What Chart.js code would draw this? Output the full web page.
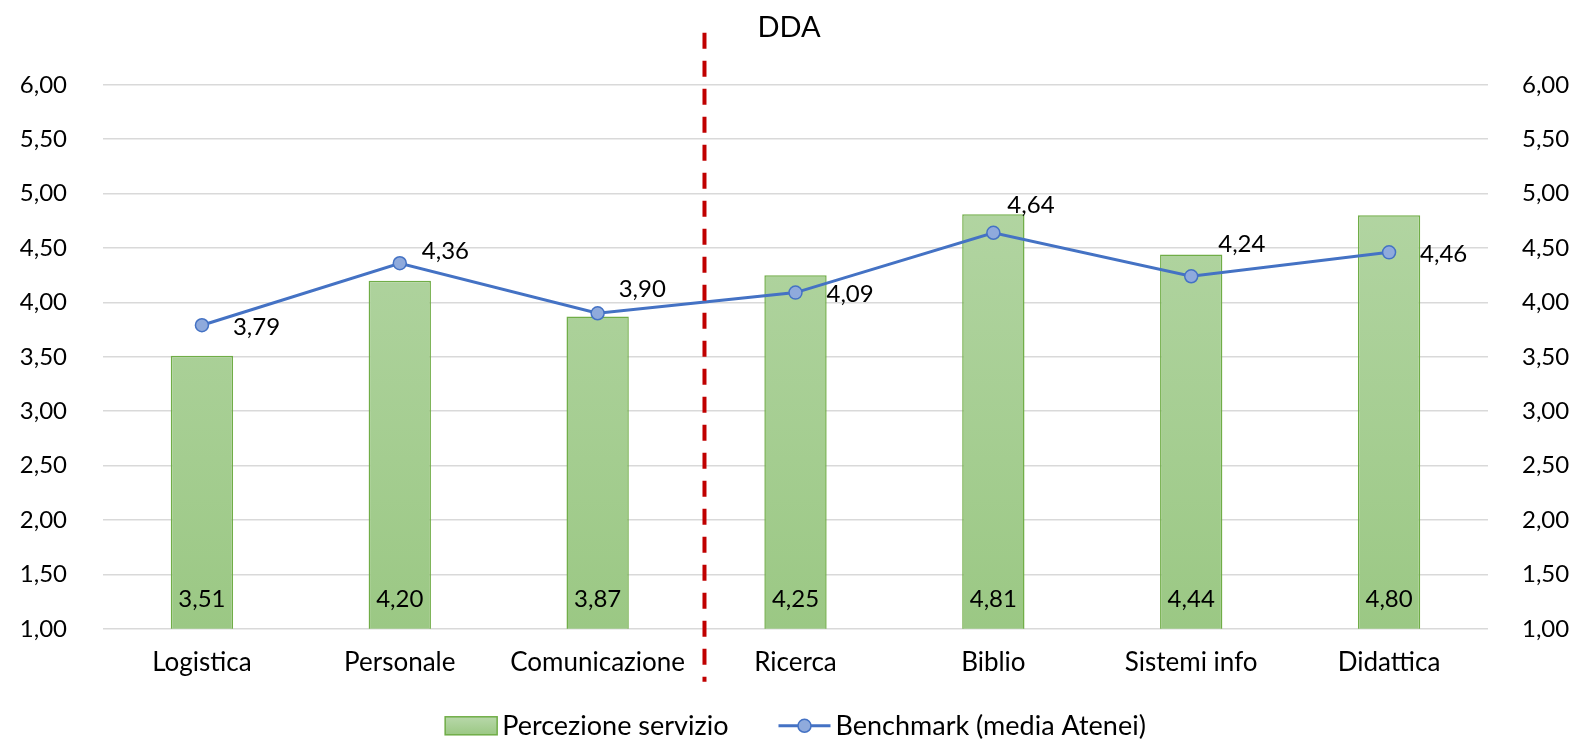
<!DOCTYPE html>
<html>
<head>
<meta charset="utf-8">
<script src="https://cdn.jsdelivr.net/npm/chart.js@4"></script>
<style>
  html, body { margin: 0; padding: 0; background: #fff; }
  #wrap { width: 1578px; height: 739px; }
</style>
</head>
<body>
<div id="wrap"><canvas id="myChart"></canvas></div>
<script>
const categories = ["Logistica", "Personale", "Comunicazione", "Ricerca", "Biblio", "Sistemi info", "Didattica"];
const percezione = [3.51, 4.20, 3.87, 4.25, 4.81, 4.44, 4.80];
const benchmark = [3.79, 4.36, 3.90, 4.09, 4.64, 4.24, 4.46];
const yTicks = [1, 1.5, 2, 2.5, 3, 3.5, 4, 4.5, 5, 5.5, 6];
const legendNames = ["Percezione servizio", "Benchmark (media Atenei)"];

// where each benchmark label sits relative to its point (dx to text left, dy to text middle)
const labelOffsets = [[31, 2], [22, -12], [21, -24], [31, 2], [14, -28], [27, -32], [31, 2]];
const dividerAt = 2.54;

const FONT = "Lato";
const fmt = (v) => v.toFixed(2).replace(".", ",");

function barGradient(ctx, top, bottom) {
    let g = ctx.createLinearGradient(0, top, 0, bottom);
    g.addColorStop(0, "#B8D8AA");
    g.addColorStop(1, "#9BC884");
    return g;
}

const extrasPlugin = {
    id: "extras",
    afterDraw(chart) {
        const ctx = chart.ctx;
        const area = chart.chartArea;
        const x = chart.scales.x;
        const y = chart.scales.y;

        //red dashed divider
        ctx.save();
        ctx.strokeStyle = "#C00000";
        ctx.lineWidth = 4;
        ctx.setLineDash([16, 12]);
        const dx = x.getPixelForValue(dividerAt);
        ctx.beginPath();
        ctx.moveTo(dx, area.top - 52);
        ctx.lineTo(dx, area.bottom + 53);
        ctx.stroke();
        ctx.restore();

        ctx.save();
        ctx.fillStyle = "#000";
        ctx.font = "24px " + FONT;

        //bar labels at the base
        ctx.textAlign = "center";
        ctx.textBaseline = "middle";
        const base = y.getPixelForValue(y.min);
        chart.getDatasetMeta(0).data.forEach((bar, i) => {
            ctx.fillText(fmt(percezione[i]), bar.x, base - 30);
        });

        //benchmark labels
        ctx.textAlign = "left";
        chart.getDatasetMeta(1).data.forEach((pt, i) => {
            ctx.fillText(fmt(benchmark[i]), pt.x + labelOffsets[i][0], pt.y + labelOffsets[i][1]);
        });

        //legend
        ctx.font = "27px " + FONT;
        const swW = 52, swH = 18, gapIn = 5, gapOut = 50;
        const w0 = ctx.measureText(legendNames[0]).width;
        const w1 = ctx.measureText(legendNames[1]).width;
        const total = swW + gapIn + w0 + gapOut + swW + gapIn + w1;
        const cy = area.bottom + 97;
        let lx = (area.left + area.right) / 2 - total / 2;

        ctx.fillStyle = barGradient(ctx, cy - swH / 2, cy + swH / 2);
        ctx.fillRect(lx, cy - swH / 2, swW, swH);
        ctx.strokeStyle = "#70AD47";
        ctx.lineWidth = 1.5;
        ctx.strokeRect(lx, cy - swH / 2, swW, swH);
        lx += swW + gapIn;
        ctx.fillStyle = "#000";
        ctx.fillText(legendNames[0], lx, cy);
        lx += w0 + gapOut;

        ctx.strokeStyle = "#4472C4";
        ctx.lineWidth = 3;
        ctx.beginPath();
        ctx.moveTo(lx, cy);
        ctx.lineTo(lx + swW, cy);
        ctx.stroke();
        ctx.beginPath();
        ctx.arc(lx + swW / 2, cy, 6.5, 0, Math.PI * 2);
        ctx.fillStyle = "#8FAADC";
        ctx.fill();
        ctx.lineWidth = 1.5;
        ctx.stroke();
        lx += swW + gapIn;
        ctx.fillStyle = "#000";
        ctx.fillText(legendNames[1], lx, cy);
        ctx.restore();
    },
};

const axisTicks = {
    font: { family: FONT, size: 24 },
    color: "#000",
    stepSize: yTicks[1] - yTicks[0],
    callback: (v) => fmt(v),
};

const config = {
    type: "bar",
    data: {
        labels: categories,
        datasets: [
            {
                label: legendNames[0],
                data: percezione,
                order: 1,
                yAxisID: "y",
                backgroundColor: (c) => {
                    const a = c.chart.chartArea;
                    if (!a) return "#A8D08D";
                    return barGradient(c.chart.ctx, a.top, a.bottom);
                },
                borderColor: "#70AD47",
                borderWidth: 1.5,
                borderSkipped: false,
                categoryPercentage: 1,
                barPercentage: 0.315,
            },
            {
                type: "line",
                label: legendNames[1],
                data: benchmark,
                order: 0,
                yAxisID: "y",
                borderColor: "#4472C4",
                borderWidth: 3,
                pointRadius: 6.5,
                pointBackgroundColor: "#8FAADC",
                pointBorderColor: "#4472C4",
                pointBorderWidth: 1.5,
                tension: 0,
            },
        ],
    },
    options: {
        responsive: true,
        maintainAspectRatio: false,
        animation: false,
        layout: { padding: { left: 0, right: 0, top: 0, bottom: 43 } },
        scales: {
            x: {
                grid: { display: false, drawTicks: false },
                border: { display: false },
                ticks: { font: { family: FONT, size: 26 }, color: "#000", padding: 18 },
            },
            y: {
                min: yTicks[0],
                max: yTicks[yTicks.length - 1],
                afterFit: (s) => { s.width = 103; },
                grid: { color: "#D9D9D9", lineWidth: 1.5, drawTicks: false },
                border: { display: false },
                ticks: Object.assign({ padding: 36 }, axisTicks),
            },
            y1: {
                position: "right",
                min: yTicks[0],
                max: yTicks[yTicks.length - 1],
                afterFit: (s) => { s.width = 90; },
                grid: { display: false, drawTicks: false },
                border: { display: false },
                ticks: Object.assign({ padding: 34 }, axisTicks),
            },
        },
        plugins: {
            title: {
                display: true,
                text: "DDA",
                color: "#000",
                font: { family: FONT, size: 29, weight: "normal" },
                padding: { top: 10, bottom: 40 },
            },
            legend: { display: false },
            tooltip: { enabled: false },
        },
    },
    plugins: [extrasPlugin],
};

const myChart = new Chart(document.querySelector("#myChart"), config);
</script>
</body>
</html>
